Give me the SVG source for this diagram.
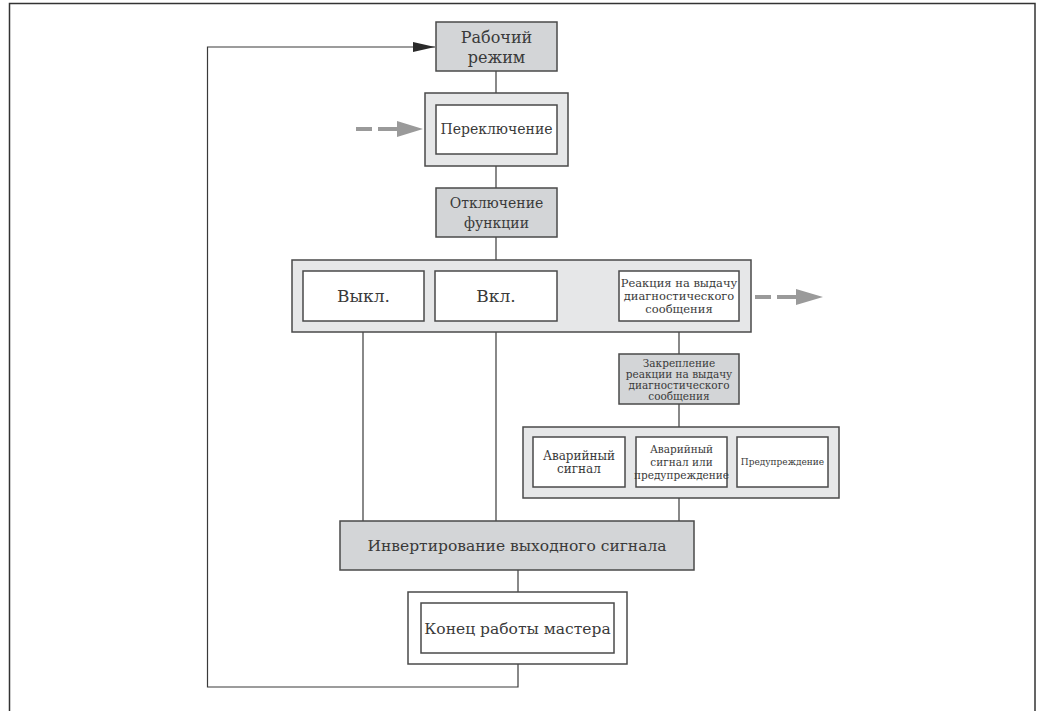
<svg xmlns="http://www.w3.org/2000/svg" width="1043" height="711" viewBox="0 0 1043 711">
<style>
.box{stroke:#4a4a4a;stroke-width:1.5}
.g{fill:#d3d5d7}
.l{fill:#e6e7e8}
.w{fill:#ffffff}
.c{fill:none;stroke:#3a3a3a;stroke-width:1.2}
.d{fill:none;stroke:#9a9a9a;stroke-width:4}
text{font-family:"DejaVu Serif","Liberation Serif",serif;fill:#3a3a3a;text-anchor:middle}
</style>
<defs>
<marker id="ah" markerWidth="22" markerHeight="10" refX="22" refY="5" orient="auto" markerUnits="userSpaceOnUse"><path d="M0,0 L22,5 L0,10 Z" fill="#2a2a2a"/></marker>
</defs>
<rect x="9.5" y="3.5" width="1025.5" height="720" fill="none" stroke="#333" stroke-width="1.5"/>
<g id="connectors">
<path class="c" d="M518,664 V687 H207.5 V47 H435" marker-end="url(#ah)"/>
<path class="c" d="M496,71 V93"/>
<path class="c" d="M496,166 V188"/>
<path class="c" d="M496,237 V260"/>
<path class="c" d="M363,332 V521"/>
<path class="c" d="M496,332 V521"/>
<path class="c" d="M679,332 V354"/>
<path class="c" d="M679,404 V427"/>
<path class="c" d="M679,498 V521"/>
<path class="c" d="M518,570 V592"/>
<path class="d" d="M356,129 H372 M378,129 H398"/>
<path d="M397,121 L423,129 L397,137 Z" fill="#9a9a9a"/>
<path class="d" d="M755,297 H771 M777,297 H797"/>
<path d="M796,289 L823,297 L796,305 Z" fill="#9a9a9a"/>
</g>
<g id="n-rabochiy">
<rect class="box g" x="436" y="22" width="121" height="49"/>
<text x="496.5" y="43" font-size="16">Рабочий</text>
<text x="496.5" y="63" font-size="16">режим</text>
</g>
<g id="n-pereklyuchenie">
<rect class="box l" x="425" y="93" width="143" height="73"/>
<rect class="box w" x="436" y="105" width="121" height="49"/>
<text x="496.5" y="134" font-size="14">Переключение</text>
</g>
<g id="n-otklyuchenie">
<rect class="box g" x="436" y="188" width="121" height="49"/>
<text x="496.5" y="208" font-size="14">Отключение</text>
<text x="496.5" y="228" font-size="14">функции</text>
</g>
<g id="n-container1">
<rect class="box l" x="292" y="260" width="459" height="72"/>
</g>
<g id="n-vykl">
<rect class="box w" x="303" y="271" width="121" height="50"/>
<text x="363.5" y="302" font-size="17">Выкл.</text>
</g>
<g id="n-vkl">
<rect class="box w" x="435" y="271" width="122" height="50"/>
<text x="496" y="302" font-size="17">Вкл.</text>
</g>
<g id="n-reaktsiya">
<rect class="box w" x="619" y="271" width="120" height="50"/>
<text x="679" y="287" font-size="11.5">Реакция на выдачу</text>
<text x="679" y="300" font-size="11.5">диагностического</text>
<text x="679" y="313" font-size="11.5">сообщения</text>
</g>
<g id="n-zakreplenie">
<rect class="box g" x="619" y="354" width="120" height="50"/>
<text x="679" y="366.5" font-size="10.5">Закрепление</text>
<text x="679" y="377.5" font-size="10.5">реакции на выдачу</text>
<text x="679" y="388.5" font-size="10.5">диагностического</text>
<text x="679" y="399.5" font-size="10.5">сообщения</text>
</g>
<g id="n-container2">
<rect class="box l" x="523" y="427" width="316" height="71"/>
</g>
<g id="n-avariyny">
<rect class="box w" x="533" y="437" width="92" height="50"/>
<text x="579" y="460" font-size="12">Аварийный</text>
<text x="579" y="473" font-size="12">сигнал</text>
</g>
<g id="n-avariyny-ili">
<rect class="box w" x="636" y="437" width="91" height="50"/>
<text x="681.5" y="453" font-size="10.5">Аварийный</text>
<text x="681.5" y="466" font-size="10.5">сигнал или</text>
<text x="681.5" y="479" font-size="10.5">предупреждение</text>
</g>
<g id="n-preduprezhdenie">
<rect class="box w" x="737" y="437" width="91" height="50"/>
<text x="782.5" y="465" font-size="9">Предупреждение</text>
</g>
<g id="n-invertirovanie">
<rect class="box g" x="340" y="521" width="354" height="49"/>
<text x="517" y="551" font-size="15.5">Инвертирование выходного сигнала</text>
</g>
<g id="n-konets">
<rect class="box w" x="408" y="592" width="219" height="72"/>
<rect class="box w" x="421" y="603" width="193" height="50"/>
<text x="517.5" y="634" font-size="15.5">Конец работы мастера</text>
</g>
</svg>
